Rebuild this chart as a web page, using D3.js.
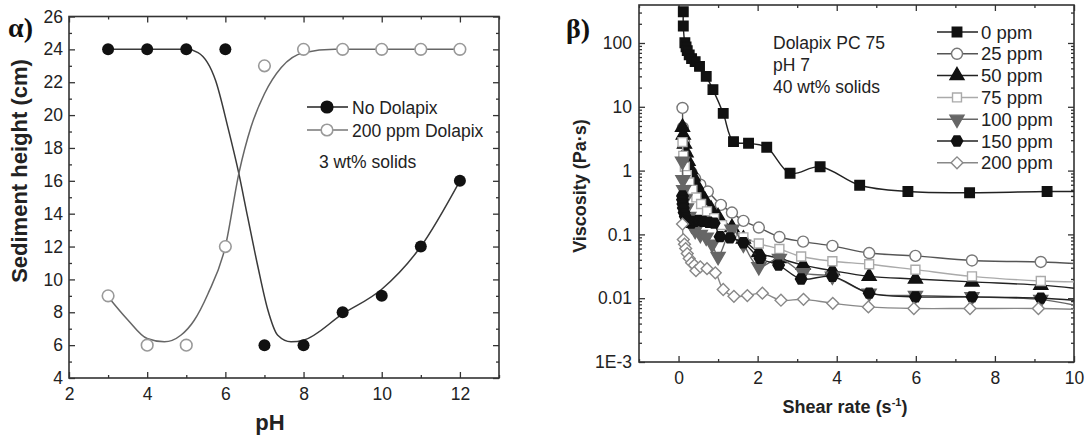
<!DOCTYPE html>
<html><head><meta charset="utf-8">
<script src="https://cdn.jsdelivr.net/npm/d3@7"></script>
<style>body{margin:0;background:#fff}</style>
</head><body>
<svg id="c" width="1091" height="437"></svg>
<script>
// ---------------- Panel α data ----------------
const phValues   = [3, 4, 5, 6, 7, 8, 9, 10, 11, 12];
const noDolapix  = [24, 24, 24, 24, 6, 6, 8, 9, 12, 16];
const dolapix200 = [9, 6, 6, 12, 23, 24, 24, 24, 24, 24];
// fitted curves
const fitNoX  = [3, 4, 5, 5.3, 5.75, 6.06, 6.33, 6.57, 6.83, 7.08, 7.34, 7.68, 8, 9, 10, 11, 12];
const fitNoY  = [24, 24, 24, 23.8, 22.1, 19.3, 16.6, 13.8, 10.8, 8.2, 6.6, 6.2, 6.3, 7.9, 9.4, 12, 16];
const fit200X = [3, 3.5, 4, 4.44, 4.86, 5.2, 5.55, 6, 6.35, 6.66, 7, 7.43, 8, 8.8, 10, 11, 12];
const fit200Y = [8.95, 7.55, 6.4, 6.2, 6.6, 7.5, 9.1, 12, 16.5, 19.3, 21.3, 22.9, 23.8, 24, 24, 24, 24];
const phTicks     = [2, 4, 6, 8, 10, 12];
const phMinor     = [3, 5, 7, 9, 11, 13];
const heightTicks = [4, 6, 8, 10, 12, 14, 16, 18, 20, 22, 24, 26];
const heightMinor = [5, 7, 9, 11, 13, 15, 17, 19, 21, 23, 25];
const legendA = ["No Dolapix", "200 ppm Dolapix"];

// ---------------- Panel β data ----------------
const seriesNames = ["0 ppm", "25 ppm", "50 ppm", "75 ppm", "100 ppm", "150 ppm", "200 ppm"];
const shear0   = [0.12, 0.12, 0.16, 0.19, 0.22, 0.27, 0.33, 0.42, 0.53, 0.70, 0.87, 1.13, 1.39, 1.77, 2.23, 2.82, 3.58, 4.58, 5.8, 7.36, 9.32];
const visc0    = [309, 185, 101, 87, 76, 65, 57, 51, 43, 30, 18.6, 7.9, 2.84, 2.68, 2.32, 0.91, 1.15, 0.59, 0.47, 0.45, 0.47];
const shear25  = [0.1, 0.11, 0.14, 0.18, 0.24, 0.32, 0.42, 0.55, 0.74, 1.07, 1.35, 1.64, 2.03, 2.55, 3.15, 3.89, 4.82, 5.99, 7.42, 9.16];
const visc25   = [9.6, 4.7, 2.8, 1.8, 1.25, 0.95, 0.75, 0.6, 0.47, 0.29, 0.22, 0.163, 0.128, 0.091, 0.077, 0.066, 0.051, 0.046, 0.039, 0.037];
const shear50  = [0.1, 0.12, 0.15, 0.19, 0.24, 0.3, 0.37, 0.45, 0.55, 0.67, 0.82, 1.0, 1.35, 1.64, 2.03, 2.55, 3.15, 3.89, 4.82, 5.99, 7.42, 9.16];
const visc50   = [4.8, 3.6, 2.6, 1.9, 1.4, 1.05, 0.8, 0.6, 0.45, 0.34, 0.25, 0.19, 0.128, 0.085, 0.052, 0.042, 0.033, 0.027, 0.022, 0.020, 0.018, 0.016];
const shear75  = [0.1, 0.12, 0.16, 0.21, 0.27, 0.35, 0.45, 0.57, 0.72, 0.9, 1.1, 1.35, 1.64, 2.03, 2.55, 3.1, 3.89, 4.82, 5.99, 7.42, 9.16];
const visc75   = [2.8, 1.7, 1.15, 0.85, 0.65, 0.5, 0.38, 0.3, 0.23, 0.18, 0.14, 0.11, 0.09, 0.072, 0.059, 0.045, 0.038, 0.034, 0.028, 0.022, 0.0186];
const shear100 = [0.1, 0.11, 0.13, 0.16, 0.2, 0.26, 0.33, 0.42, 0.55, 0.7, 0.85, 1.0, 1.35, 1.64, 2.03, 2.55, 3.15, 3.89, 4.82, 5.99, 7.42, 9.16];
const visc100  = [1.4, 0.72, 0.5, 0.36, 0.26, 0.19, 0.14, 0.115, 0.1, 0.09, 0.07, 0.045, 0.12, 0.07, 0.031, 0.042, 0.025, 0.022, 0.012, 0.011, 0.0105, 0.0095];
const shear150 = [0.1, 0.1, 0.11, 0.12, 0.14, 0.17, 0.21, 0.26, 0.32, 0.4, 0.5, 0.62, 0.76, 0.9, 1.05, 1.3, 1.64, 2.06, 2.53, 3.1, 3.89, 4.82, 5.99, 7.42, 9.16];
const visc150  = [0.4, 0.35, 0.3, 0.26, 0.22, 0.19, 0.17, 0.155, 0.15, 0.16, 0.165, 0.16, 0.155, 0.15, 0.092, 0.088, 0.074, 0.042, 0.033, 0.020, 0.022, 0.012, 0.0105, 0.0105, 0.010];
const shear200 = [0.1, 0.12, 0.15, 0.18, 0.22, 0.27, 0.33, 0.4, 0.44, 0.55, 0.72, 0.93, 1.13, 1.4, 1.74, 2.12, 2.59, 3.16, 3.9, 4.8, 5.95, 7.37, 9.1];
const visc200  = [0.145, 0.083, 0.07, 0.06, 0.05, 0.042, 0.036, 0.033, 0.027, 0.031, 0.029, 0.025, 0.0137, 0.0107, 0.011, 0.012, 0.0093, 0.0096, 0.0083, 0.0073, 0.0069, 0.0069, 0.0069];
// value of each fitted line where it leaves the frame (shear rate 10)
const edgeVisc = [0.47, 0.035, 0.0143, 0.018, 0.0078, 0.0093, 0.0067];
const shearTicks = [0, 2, 4, 6, 8, 10];
const shearMinor = [-1, 1, 3, 5, 7, 9];
const viscTicks = [1e-3, 0.01, 0.1, 1, 10, 100];
const viscTickLabels = ["1E-3", "0.01", "0.1", "1", "10", "100"];
const annotB = ["Dolapix PC 75", "pH 7", "40 wt% solids"];

// ---------------- drawing ----------------
const svg = d3.select("#c");
const FONT = "'Liberation Sans', Arial, sans-serif";
const BOLDSERIF = "'Liberation Serif', 'Times New Roman', serif";

function frameAxes(g, x, y, xMaj, xMin, yMaj, yMin, xFmt, yFmt, padX, padY) {
  const [x0, x1] = x.range(), [y0, y1] = y.range(); // y0 bottom
  const style = sel => {
    sel.select(".domain").remove();
    sel.selectAll("line").attr("stroke", "#333").attr("stroke-width", 1.3);
    sel.selectAll("text").attr("font-family", FONT).attr("font-size", 17.5).attr("fill", "#222");
  };
  g.append("g").attr("transform", `translate(0,${y0})`)
    .call(d3.axisBottom(x).tickValues(xMaj).tickSize(-6).tickPadding(padX).tickFormat(xFmt)).call(style);
  g.append("g").attr("transform", `translate(0,${y0})`)
    .call(d3.axisBottom(x).tickValues(xMin).tickSize(-3).tickFormat("")).call(style);
  g.append("g").attr("transform", `translate(0,${y1})`)
    .call(d3.axisTop(x).tickValues(xMaj).tickSize(-6).tickFormat("")).call(style);
  g.append("g").attr("transform", `translate(0,${y1})`)
    .call(d3.axisTop(x).tickValues(xMin).tickSize(-3).tickFormat("")).call(style);
  g.append("g").attr("transform", `translate(${x0},0)`)
    .call(d3.axisLeft(y).tickValues(yMaj).tickSize(-6).tickPadding(padY).tickFormat(yFmt)).call(style);
  g.append("g").attr("transform", `translate(${x0},0)`)
    .call(d3.axisLeft(y).tickValues(yMin).tickSize(-3).tickFormat("")).call(style);
  g.append("g").attr("transform", `translate(${x1},0)`)
    .call(d3.axisRight(y).tickValues(yMaj).tickSize(-6).tickFormat("")).call(style);
  g.append("g").attr("transform", `translate(${x1},0)`)
    .call(d3.axisRight(y).tickValues(yMin).tickSize(-3).tickFormat("")).call(style);
  g.append("rect").attr("x", x0).attr("y", y1).attr("width", x1 - x0).attr("height", y0 - y1)
    .attr("fill", "none").attr("stroke", "#333").attr("stroke-width", 1.6);
}

// ===== Panel α =====
const gA = svg.append("g");
const xA = d3.scaleLinear().domain([2, 13]).range([69, 499]);
const yA = d3.scaleLinear().domain([4, 26]).range([378, 16.5]);
frameAxes(gA, xA, yA, phTicks, phMinor, heightTicks, heightMinor, d3.format("d"), d3.format("d"), 10, 6);

const lineA = d3.line().x(d => xA(d[0])).y(d => yA(d[1])).curve(d3.curveMonotoneX);
gA.append("path").attr("d", lineA(d3.zip(fitNoX, fitNoY)))
  .attr("fill", "none").attr("stroke", "#3a3a3a").attr("stroke-width", 1.5);
gA.append("path").attr("d", lineA(d3.zip(fit200X, fit200Y)))
  .attr("fill", "none").attr("stroke", "#666").attr("stroke-width", 1.5);
gA.append("g").selectAll("circle").data(d3.zip(phValues, dolapix200)).join("circle")
  .attr("cx", d => xA(d[0])).attr("cy", d => yA(d[1])).attr("r", 5.8)
  .attr("fill", "#fff").attr("stroke", "#999").attr("stroke-width", 1.6);
gA.append("g").selectAll("circle").data(d3.zip(phValues, noDolapix)).join("circle")
  .attr("cx", d => xA(d[0])).attr("cy", d => yA(d[1])).attr("r", 6)
  .attr("fill", "#111");

// legend α
const legA = gA.append("g");
[[legendA[0], "#222", "#111", "#111"], [legendA[1], "#777", "#fff", "#999"]].forEach((d, i) => {
  const yy = 107 + i * 23;
  legA.append("line").attr("x1", 307).attr("x2", 348).attr("y1", yy).attr("y2", yy)
    .attr("stroke", d[1]).attr("stroke-width", 1.5);
  legA.append("circle").attr("cx", 327).attr("cy", yy).attr("r", 5.8)
    .attr("fill", d[2]).attr("stroke", d[3]).attr("stroke-width", 1.6);
  legA.append("text").attr("x", 352).attr("y", yy + 6.5).text(d[0])
    .attr("font-family", FONT).attr("font-size", 17.5).attr("fill", "#222");
});
gA.append("text").attr("x", 319).attr("y", 168).text("3 wt% solids")
  .attr("font-family", FONT).attr("font-size", 17.5).attr("fill", "#222");
gA.append("text").attr("transform", "translate(27,171) rotate(-90)").attr("text-anchor", "middle")
  .text("Sediment height (cm)").attr("font-family", FONT).attr("font-weight", "bold")
  .attr("font-size", 22).attr("fill", "#222");
gA.append("text").attr("x", 270).attr("y", 430).attr("text-anchor", "middle").text("pH")
  .attr("font-family", FONT).attr("font-weight", "bold").attr("font-size", 22).attr("fill", "#222");
svg.append("text").attr("x", 8).attr("y", 37).text("α)")
  .attr("font-family", BOLDSERIF).attr("font-weight", "bold").attr("font-size", 28).attr("fill", "#111");

// ===== Panel β =====
const gB = svg.append("g");
const xB = d3.scaleLinear().domain([-1, 10]).range([639, 1074]);
const yB = d3.scaleLog().domain([1e-3, 394]).range([362, 5]);
const viscMinor = [];
[-3, -2, -1, 0, 1, 2].forEach(e => { for (let k = 2; k <= 9; k++) { const v = k * Math.pow(10, e); if (v <= 394) viscMinor.push(v); } });
frameAxes(gB, xB, yB, shearTicks, shearMinor, viscTicks, viscMinor, d3.format("d"),
  (d, i) => viscTickLabels[viscTicks.indexOf(d)], 10, 7);

gB.append("clipPath").attr("id", "clipB").append("rect")
  .attr("x", 639).attr("y", 5).attr("width", 435).attr("height", 357);

const hexagon = { draw(ctx, size) { const r = Math.sqrt(2 * size / (3 * Math.sqrt(3)));
  for (let i = 0; i < 6; i++) { const a = Math.PI / 3 * i;
    const px = r * Math.cos(a), py = r * Math.sin(a);
    if (i === 0) ctx.moveTo(px, py); else ctx.lineTo(px, py); }
  ctx.closePath(); } };

const styles = [
  { sym: d3.symbolSquare,   size: 90, fill: "#111", stroke: "#111", line: "#222", rot: 0 },
  { sym: d3.symbolCircle,   size: 95, fill: "#fff", stroke: "#777", line: "#555", rot: 0 },
  { sym: d3.symbolTriangle, size: 85, fill: "#111", stroke: "#111", line: "#222", rot: 0 },
  { sym: d3.symbolSquare,   size: 80, fill: "#fff", stroke: "#aaa", line: "#aaa", rot: 0 },
  { sym: d3.symbolTriangle, size: 85, fill: "#666", stroke: "#666", line: "#666", rot: 180 },
  { sym: hexagon,           size: 85, fill: "#111", stroke: "#111", line: "#222", rot: 0 },
  { sym: d3.symbolSquare,   size: 70, fill: "#fff", stroke: "#888", line: "#888", rot: 45 }
];
const shears = [shear0, shear25, shear50, shear75, shear100, shear150, shear200];
const viscs  = [visc0, visc25, visc50, visc75, visc100, visc150, visc200];

const lineB = d3.line().x(d => xB(d[0])).y(d => yB(d[1])).curve(d3.curveCatmullRom.alpha(0.5));
shears.forEach((sx, i) => {
  const st = styles[i];
  const pts = d3.zip(sx, viscs[i]);
  const linePts = pts.concat([[10, edgeVisc[i]]]);
  gB.append("path").attr("clip-path", "url(#clipB)").attr("d", lineB(linePts))
    .attr("fill", "none").attr("stroke", st.line).attr("stroke-width", 1.4);
  gB.append("g").selectAll("path").data(pts).join("path")
    .attr("d", d3.symbol().type(st.sym).size(st.size))
    .attr("transform", d => `translate(${xB(d[0])},${yB(d[1])}) rotate(${st.rot})`)
    .attr("fill", st.fill).attr("stroke", st.stroke).attr("stroke-width", 1.4);
});

// legend β
const legB = gB.append("g");
seriesNames.forEach((name, i) => {
  const st = styles[i];
  const yy = 32 + i * 21.8;
  legB.append("line").attr("x1", 937).attr("x2", 978).attr("y1", yy).attr("y2", yy)
    .attr("stroke", st.line).attr("stroke-width", 1.5);
  legB.append("path").attr("d", d3.symbol().type(st.sym).size(st.size))
    .attr("transform", `translate(957,${yy}) rotate(${st.rot})`)
    .attr("fill", st.fill).attr("stroke", st.stroke).attr("stroke-width", 1.4);
  legB.append("text").attr("x", 981).attr("y", yy + 6.5).text(name)
    .attr("font-family", FONT).attr("font-size", 18.5).attr("fill", "#222");
});
annotB.forEach((t, i) => {
  gB.append("text").attr("x", 773).attr("y", 49 + i * 22).text(t)
    .attr("font-family", FONT).attr("font-size", 17.5).attr("fill", "#222");
});
gB.append("text").attr("transform", "translate(586,186) rotate(-90)").attr("text-anchor", "middle")
  .text("Viscosity (Pa·s)").attr("font-family", FONT).attr("font-weight", "bold")
  .attr("font-size", 18).attr("fill", "#222");
const xt = gB.append("text").attr("x", 845).attr("y", 413).attr("text-anchor", "middle")
  .attr("font-family", FONT).attr("font-weight", "bold").attr("font-size", 18).attr("fill", "#222");
xt.append("tspan").text("Shear rate (s");
xt.append("tspan").attr("dy", -7).attr("font-size", 11).text("-1");
xt.append("tspan").attr("dy", 7).text(")");
svg.append("text").attr("x", 566).attr("y", 38).text("β)")
  .attr("font-family", BOLDSERIF).attr("font-weight", "bold").attr("font-size", 28).attr("fill", "#111");
</script>
</body></html>
